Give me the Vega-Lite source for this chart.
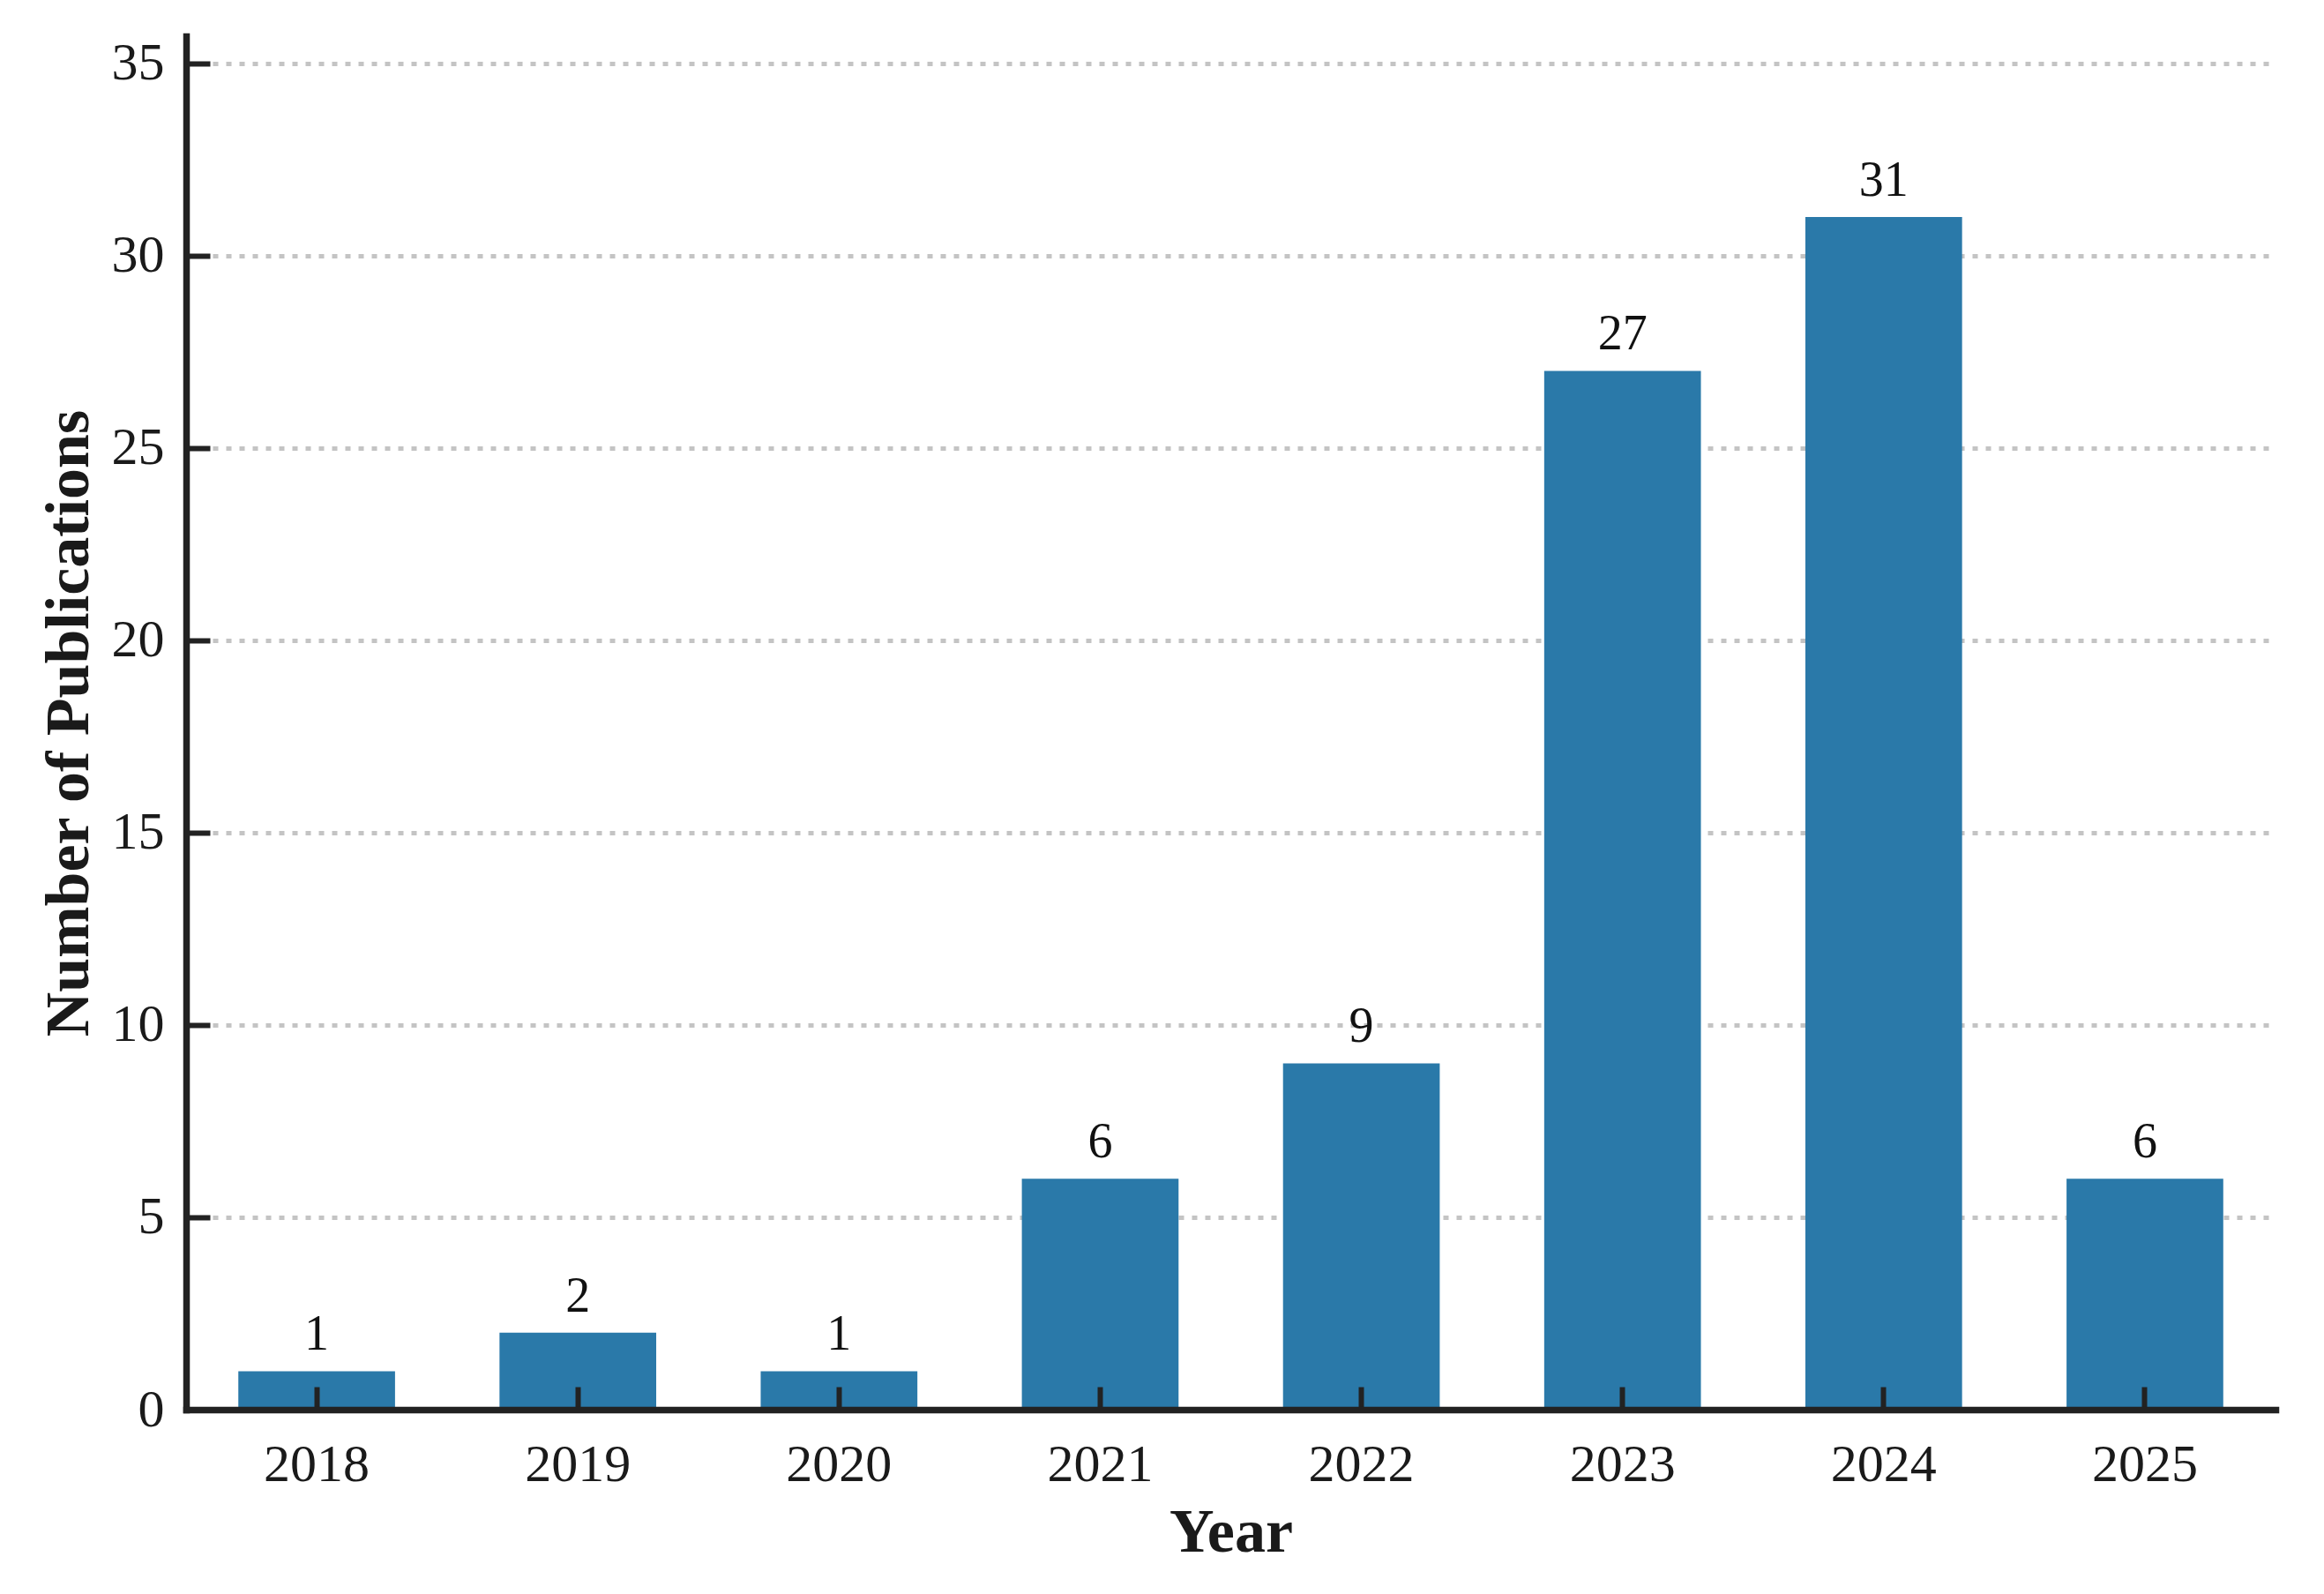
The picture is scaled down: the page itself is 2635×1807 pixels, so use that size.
{
  "$schema": "https://vega.github.io/schema/vega-lite/v6.json",
  "width": 2369,
  "height": 1557,
  "autosize": "none",
  "padding": {"left": 211, "top": 41, "right": 55, "bottom": 209},
  "background": "white",
  "config": {
    "view": {"stroke": null},
    "font": "Liberation Serif"
  },
  "data": {
    "values": [
      {"year": "2018", "count": 1},
      {"year": "2019", "count": 2},
      {"year": "2020", "count": 1},
      {"year": "2021", "count": 6},
      {"year": "2022", "count": 9},
      {"year": "2023", "count": 27},
      {"year": "2024", "count": 31},
      {"year": "2025", "count": 6}
    ]
  },
  "encoding": {
    "x": {
      "field": "year",
      "type": "ordinal",
      "scale": {"paddingInner": 0.4, "paddingOuter": 0.2},
      "axis": {
        "title": "Year",
        "titleFont": "Liberation Serif",
        "titleFontWeight": "bold",
        "titleFontSize": 70,
        "titleColor": "#1a1a1a",
        "titleBaseline": "alphabetic",
        "titlePadding": 68,
        "labelFont": "Liberation Serif",
        "labelFontSize": 60,
        "labelColor": "#1a1a1a",
        "labelAngle": 0,
        "labelPadding": 59,
        "domainColor": "#222222",
        "domainWidth": 7.5,
        "domainCap": "square",
        "tickColor": "#222222",
        "tickWidth": 6,
        "tickSize": -26,
        "grid": false,
        "zindex": 1
      }
    },
    "y": {
      "field": "count",
      "type": "quantitative",
      "scale": {"domain": [0, 35.7], "nice": false},
      "axis": {
        "title": "Number of Publications",
        "titleFont": "Liberation Serif",
        "titleFontWeight": "bold",
        "titleFontSize": 70,
        "titleColor": "#1a1a1a",
        "titleBaseline": "alphabetic",
        "titlePadding": 27,
        "values": [0, 5, 10, 15, 20, 25, 30, 35],
        "labelFont": "Liberation Serif",
        "labelFontSize": 60,
        "labelColor": "#1a1a1a",
        "labelPadding": 52,
        "domainColor": "#222222",
        "domainWidth": 7.5,
        "domainCap": "square",
        "tickColor": "#222222",
        "tickWidth": 6,
        "tickSize": -27,
        "grid": true,
        "gridColor": "#c4c4c4",
        "gridWidth": 5,
        "gridDash": [6, 9],
        "zindex": 0
      }
    }
  },
  "layer": [
    {"mark": {"type": "bar", "color": "#2a79a9"}},
    {
      "mark": {
        "type": "text",
        "font": "Liberation Serif",
        "fontSize": 56,
        "color": "#111111",
        "baseline": "alphabetic",
        "dy": -24
      },
      "encoding": {"text": {"field": "count", "type": "quantitative"}}
    }
  ]
}
